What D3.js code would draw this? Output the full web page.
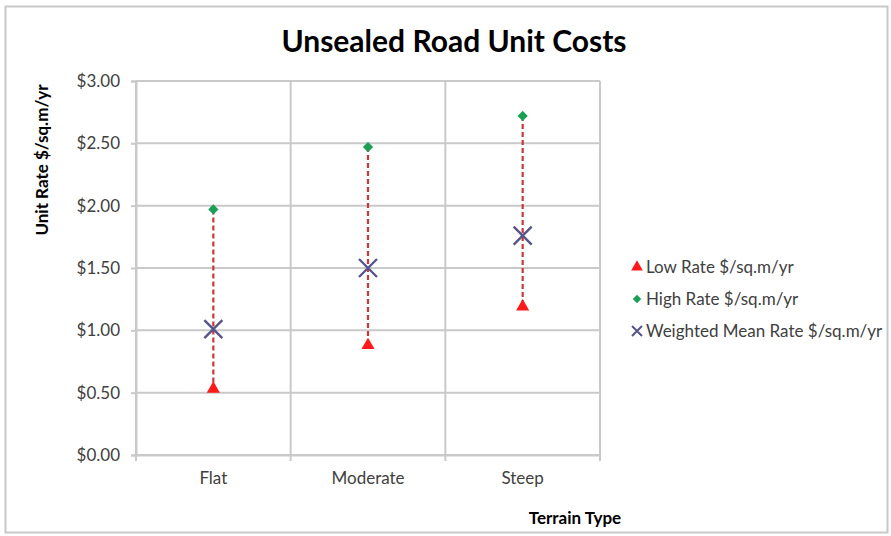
<!DOCTYPE html>
<html>
<head>
<meta charset="utf-8">
<script src="https://cdn.jsdelivr.net/npm/d3@7"></script>
<style>
  html, body { margin: 0; padding: 0; background: #fff; }
  svg { display: block; }
  svg text { font-family: Lato, "Open Sans", sans-serif; }
</style>
</head>
<body>
<svg id="chart" width="891" height="536"></svg>
<script>
// Unit cost range per terrain type
const categories = ["Flat", "Moderate", "Steep"];
const lowRate = [0.53, 0.88, 1.19];
const highRate = [1.97, 2.47, 2.72];
const meanRate = [1.01, 1.50, 1.76];
const yTicks = [0, 0.5, 1, 1.5, 2, 2.5, 3];
const seriesNames = ["Low Rate $/sq.m/yr", "High Rate $/sq.m/yr", "Weighted Mean Rate $/sq.m/yr"];

const svg = d3.select("#chart");
const W = 891, H = 536;
const plot = { left: 136, right: 600, top: 81, bottom: 455 };

// outer chart frame
svg.append("rect")
  .attr("x", 5.5).attr("y", 6.5).attr("width", W - 9).attr("height", H - 10)
  .attr("fill", "#fff").attr("stroke", "#c8c8c8").attr("stroke-width", 2);

const x = d3.scaleBand().domain(categories).range([plot.left, plot.right]).padding(0);
const y = d3.scaleLinear().domain([0, 3]).range([plot.bottom, plot.top]);

const grid = "#c9c9c9";

// horizontal gridlines
svg.append("g").selectAll("line").data(yTicks).join("line")
  .attr("x1", plot.left).attr("x2", plot.right)
  .attr("y1", d => y(d)).attr("y2", d => y(d))
  .attr("stroke", grid).attr("stroke-width", 2);

// vertical gridlines at category boundaries
const bounds = categories.map(c => x(c) + x.bandwidth()).concat([plot.left]);
svg.append("g").selectAll("line").data(bounds).join("line")
  .attr("x1", d => d).attr("x2", d => d)
  .attr("y1", plot.top).attr("y2", plot.bottom)
  .attr("stroke", grid).attr("stroke-width", 2);

// y axis
const yAxis = svg.append("g")
  .attr("transform", `translate(${plot.left},0)`)
  .call(d3.axisLeft(y).tickValues(yTicks).tickFormat(d3.format("$.2f")).tickSize(5).tickPadding(11));
yAxis.attr("font-family", null);
yAxis.select(".domain").attr("stroke", grid).attr("stroke-width", 2);
yAxis.selectAll(".tick line").attr("stroke", grid).attr("stroke-width", 2);
yAxis.selectAll("text").attr("fill", "#404040").attr("font-size", 17);

// x axis
const xAxis = svg.append("g")
  .attr("transform", `translate(0,${plot.bottom})`)
  .call(d3.axisBottom(x).tickSize(0).tickPadding(17));
xAxis.attr("font-family", null);
xAxis.select(".domain").attr("stroke", grid).attr("stroke-width", 2);
xAxis.selectAll("text").attr("fill", "#404040").attr("font-size", 17);
svg.append("g").selectAll("line").data(bounds).join("line")
  .attr("x1", d => d).attr("x2", d => d)
  .attr("y1", plot.bottom).attr("y2", plot.bottom + 6)
  .attr("stroke", grid).attr("stroke-width", 2);

// high-low dashed connectors
const cx = c => x(c) + x.bandwidth() / 2;
svg.append("g").selectAll("line").data(categories).join("line")
  .attr("x1", cx).attr("x2", cx)
  .attr("y1", (c, i) => y(highRate[i])).attr("y2", (c, i) => y(lowRate[i]))
  .attr("stroke", "#cc3638").attr("stroke-width", 2.2)
  .attr("stroke-dasharray", "5,3");

const tri = d3.symbol().type(d3.symbolTriangle).size(75);
const dia = d3.symbol().type(d3.symbolSquare).size(52);

// low rate markers
svg.append("g").selectAll("path").data(categories).join("path")
  .attr("d", tri)
  .attr("transform", (c, i) => `translate(${cx(c)},${y(lowRate[i])})`)
  .attr("fill", "#ff1a1a");

// high rate markers
svg.append("g").selectAll("path").data(categories).join("path")
  .attr("d", dia)
  .attr("transform", (c, i) => `translate(${cx(c)},${y(highRate[i])}) rotate(45)`)
  .attr("fill", "#1aa055");

// weighted mean markers (X)
const xMark = (s) => `M${-s},${-s}L${s},${s}M${-s},${s}L${s},${-s}`;
svg.append("g").selectAll("path").data(categories).join("path")
  .attr("d", xMark(9))
  .attr("transform", (c, i) => `translate(${cx(c)},${y(meanRate[i])})`)
  .attr("fill", "none").attr("stroke", "#55558c").attr("stroke-width", 2.4);

// title
svg.append("text")
  .attr("x", 454).attr("y", 52).attr("text-anchor", "middle")
  .attr("font-size", 30).attr("font-weight", "bold").attr("fill", "#000")
  .text("Unsealed Road Unit Costs");

// axis titles
svg.append("text")
  .attr("transform", "translate(48,160) rotate(-90)")
  .attr("text-anchor", "middle").attr("font-size", 17).attr("font-weight", "bold")
  .text("Unit Rate $/sq.m/yr");
svg.append("text")
  .attr("x", 575).attr("y", 524).attr("text-anchor", "middle")
  .attr("font-size", 17).attr("font-weight", "bold")
  .text("Terrain Type");

// legend
const legend = svg.append("g").attr("transform", "translate(637,267)");
const items = legend.selectAll("g").data(seriesNames).join("g")
  .attr("transform", (d, i) => `translate(0,${i * 32})`);
items.append("path")
  .attr("d", (d, i) => i === 0 ? d3.symbol().type(d3.symbolTriangle).size(60)() :
                       i === 1 ? d3.symbol().type(d3.symbolSquare).size(36)() : xMark(5))
  .attr("transform", (d, i) => i === 1 ? "rotate(45)" : null)
  .attr("fill", (d, i) => i === 0 ? "#ff1a1a" : i === 1 ? "#1aa055" : "none")
  .attr("stroke", (d, i) => i === 2 ? "#55558c" : "none")
  .attr("stroke-width", 2);
items.append("text")
  .attr("x", 9).attr("dy", "0.35em")
  .attr("font-size", 17).attr("fill", "#404040")
  .text(d => d);
</script>
</body>
</html>
